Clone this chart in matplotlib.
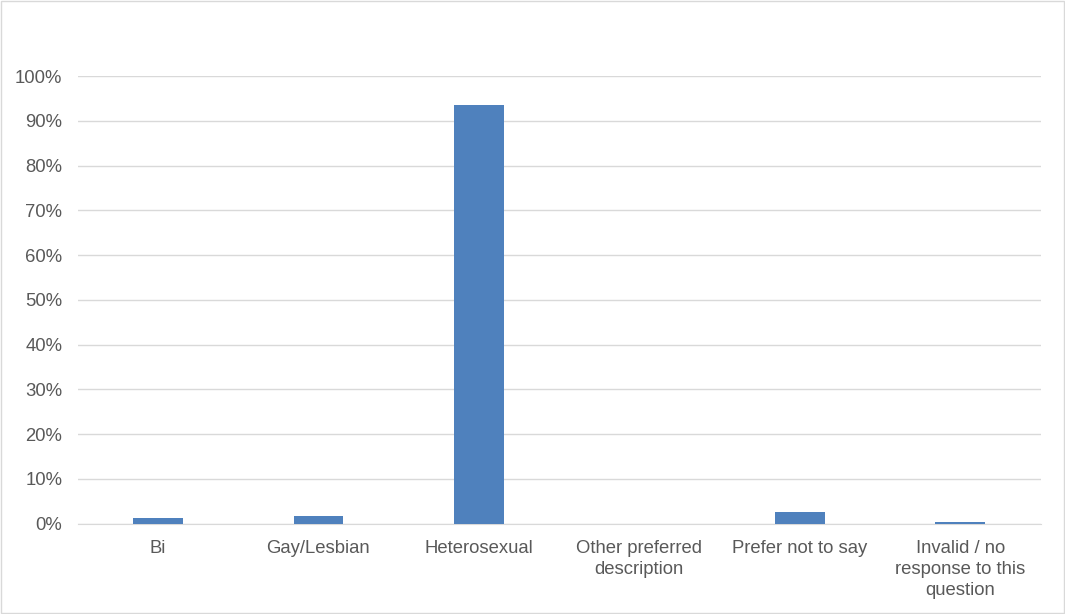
import matplotlib
matplotlib.use("Agg")
import matplotlib.pyplot as plt
from matplotlib.ticker import PercentFormatter

plt.rcParams["font.family"] = ["Liberation Sans", "DejaVu Sans"]

categories = ["Bi", "Gay/Lesbian", "Heterosexual", "Other preferred\ndescription",
              "Prefer not to say", "Invalid / no\nresponse to this\nquestion"]
shares = [0.013, 0.018, 0.935, 0.0, 0.027, 0.003]

fig = plt.figure(figsize=(10.65, 6.14), dpi=100)
ax = fig.add_axes([0.073, 0.147, 0.904, 0.729])

ax.bar(range(len(categories)), shares, width=0.31, color="#4f81bd", zorder=3)

ax.set_ylim(0, 1)
ax.set_xlim(-0.5, len(categories) - 0.5)
ax.set_yticks([i / 10 for i in range(11)])
ax.yaxis.set_major_formatter(PercentFormatter(1.0, decimals=0))
ax.grid(axis="y", color="#d9d9d9", linewidth=1, zorder=0)
ax.set_xticks(range(len(categories)))
ax.set_xticklabels(categories, va="top", linespacing=1.32)
ax.tick_params(axis="both", length=0, labelsize=13.3, labelcolor="#595959")
ax.tick_params(axis="x", pad=11.5)
ax.tick_params(axis="y", pad=11)
for s in ["top", "right", "left"]:
    ax.spines[s].set_visible(False)
ax.spines["bottom"].set_color("#d9d9d9")

# light border round the whole chart
fig.patches.append(plt.Rectangle((0.001, 0.001), 0.998, 0.997, transform=fig.transFigure,
                                 fill=False, edgecolor="#d9d9d9", linewidth=1))

fig.savefig("out.png", dpi=100)
